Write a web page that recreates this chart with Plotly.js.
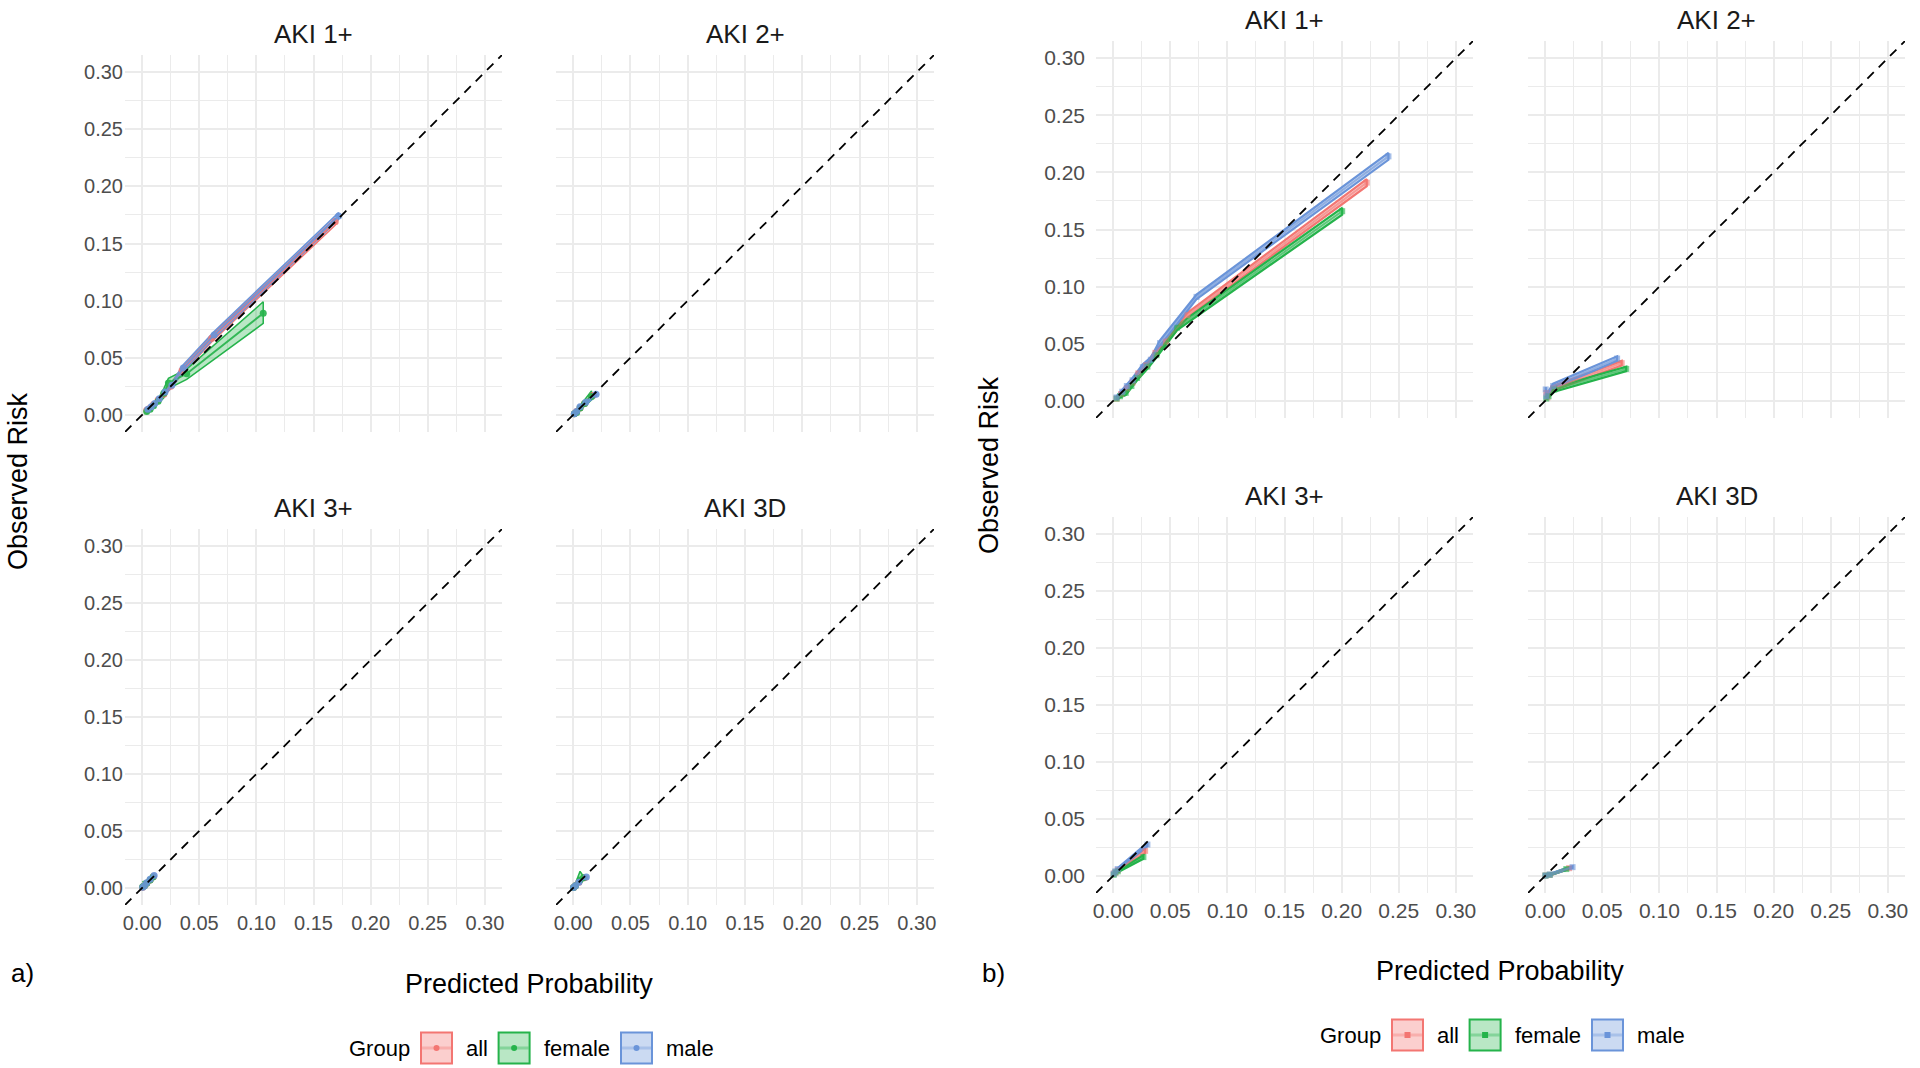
<!DOCTYPE html>
<html>
<head>
<meta charset="utf-8">
<script src="https://cdn.plot.ly/plotly-3.0.1.min.js"></script>
<style>
  html, body { margin: 0; padding: 0; background: #fff; }
  #plot { width: 1920px; height: 1068px; }
</style>
</head>
<body>
<div id="plot"></div>
<script>
document.addEventListener("DOMContentLoaded", function(event) {

  const groups = ['all', 'female', 'male'];
  const groupColors = ['#F37672', '#25B34B', '#6A94D9'];
  const groupFills = ['rgba(243,118,114,0.35)', 'rgba(37,179,75,0.32)', 'rgba(106,148,217,0.35)'];
  const panelTitles = ['AKI 1+', 'AKI 2+', 'AKI 3+', 'AKI 3D'];
  const tickValues = [0, 0.05, 0.10, 0.15, 0.20, 0.25, 0.30];
  const tickLabels = ['0.00', '0.05', '0.10', '0.15', '0.20', '0.25', '0.30'];

  // a) AKI 1+
  const aAki1AllX   = [0.004, 0.007, 0.010, 0.014, 0.019, 0.025, 0.035, 0.061, 0.169];
  const aAki1AllY   = [0.004, 0.006, 0.009, 0.013, 0.018, 0.025, 0.039, 0.067, 0.169];
  const aAki1AllLo  = [0.003, 0.005, 0.008, 0.012, 0.016, 0.023, 0.036, 0.064, 0.166];
  const aAki1AllHi  = [0.005, 0.007, 0.010, 0.014, 0.020, 0.027, 0.042, 0.070, 0.172];
  const aAki1FemX   = [0.004, 0.007, 0.010, 0.014, 0.019, 0.023, 0.039, 0.106];
  const aAki1FemY   = [0.003, 0.005, 0.008, 0.012, 0.019, 0.028, 0.036, 0.089];
  const aAki1FemLo  = [0.001, 0.003, 0.006, 0.010, 0.015, 0.023, 0.031, 0.080];
  const aAki1FemHi  = [0.005, 0.008, 0.010, 0.014, 0.023, 0.032, 0.040, 0.099];
  const aAki1MaleX  = [0.005, 0.008, 0.011, 0.015, 0.020, 0.026, 0.036, 0.063, 0.172];
  const aAki1MaleY  = [0.005, 0.007, 0.010, 0.014, 0.020, 0.026, 0.041, 0.070, 0.174];
  const aAki1MaleLo = [0.004, 0.006, 0.009, 0.013, 0.018, 0.024, 0.038, 0.067, 0.171];
  const aAki1MaleHi = [0.006, 0.008, 0.011, 0.015, 0.022, 0.028, 0.044, 0.073, 0.177];

  // a) AKI 2+
  const aAki2AllX   = [0.001, 0.003, 0.006, 0.010, 0.017];
  const aAki2AllY   = [0.001, 0.003, 0.006, 0.010, 0.017];
  const aAki2AllLo  = [0.000, 0.002, 0.005, 0.009, 0.015];
  const aAki2AllHi  = [0.002, 0.004, 0.007, 0.011, 0.019];
  const aAki2FemX   = [0.001, 0.003, 0.006, 0.010, 0.016];
  const aAki2FemY   = [0.001, 0.002, 0.006, 0.010, 0.016];
  const aAki2FemLo  = [0.000, 0.001, 0.004, 0.008, 0.013];
  const aAki2FemHi  = [0.002, 0.004, 0.008, 0.013, 0.021];
  const aAki2MaleX  = [0.001, 0.003, 0.006, 0.011, 0.020];
  const aAki2MaleY  = [0.001, 0.003, 0.007, 0.011, 0.018];
  const aAki2MaleLo = [0.000, 0.002, 0.006, 0.010, 0.016];
  const aAki2MaleHi = [0.002, 0.004, 0.008, 0.012, 0.020];

  // a) AKI 3+
  const aAki3AllX   = [0.0005, 0.002, 0.004, 0.007, 0.010];
  const aAki3AllY   = [0.0005, 0.002, 0.004, 0.007, 0.010];
  const aAki3AllLo  = [0.000, 0.001, 0.003, 0.006, 0.009];
  const aAki3AllHi  = [0.001, 0.003, 0.005, 0.008, 0.011];
  const aAki3FemX   = [0.0005, 0.002, 0.004, 0.007, 0.0095];
  const aAki3FemY   = [0.001, 0.002, 0.004, 0.007, 0.0095];
  const aAki3FemLo  = [0.000, 0.001, 0.003, 0.005, 0.008];
  const aAki3FemHi  = [0.006, 0.004, 0.006, 0.009, 0.011];
  const aAki3MaleX  = [0.0005, 0.002, 0.004, 0.007, 0.0105];
  const aAki3MaleY  = [0.0005, 0.002, 0.0045, 0.0075, 0.011];
  const aAki3MaleLo = [0.000, 0.001, 0.0035, 0.0065, 0.010];
  const aAki3MaleHi = [0.001, 0.003, 0.0055, 0.0085, 0.012];

  // a) AKI 3D
  const aAki3dAllX   = [0.0003, 0.002, 0.005, 0.010];
  const aAki3dAllY   = [0.0003, 0.002, 0.005, 0.009];
  const aAki3dAllLo  = [0.000, 0.001, 0.004, 0.008];
  const aAki3dAllHi  = [0.001, 0.003, 0.006, 0.010];
  const aAki3dFemX   = [0.0003, 0.002, 0.006, 0.009];
  const aAki3dFemY   = [0.0003, 0.002, 0.007, 0.009];
  const aAki3dFemLo  = [0.000, 0.001, 0.004, 0.008];
  const aAki3dFemHi  = [0.001, 0.004, 0.0145, 0.010];
  const aAki3dMaleX  = [0.0003, 0.002, 0.005, 0.0115];
  const aAki3dMaleY  = [0.0003, 0.002, 0.005, 0.0096];
  const aAki3dMaleLo = [0.000, 0.001, 0.004, 0.0085];
  const aAki3dMaleHi = [0.001, 0.003, 0.006, 0.0105];

  // b) AKI 1+
  const bAki1AllX   = [0.003, 0.007, 0.012, 0.017, 0.022, 0.029, 0.037, 0.046, 0.065, 0.222];
  const bAki1AllY   = [0.002, 0.006, 0.011, 0.016, 0.024, 0.031, 0.042, 0.052, 0.075, 0.191];
  const bAki1AllLo  = [0.001, 0.005, 0.009, 0.014, 0.022, 0.029, 0.040, 0.050, 0.073, 0.188];
  const bAki1AllHi  = [0.003, 0.007, 0.013, 0.018, 0.026, 0.033, 0.044, 0.054, 0.077, 0.194];
  const bAki1FemX   = [0.003, 0.006, 0.011, 0.016, 0.021, 0.030, 0.038, 0.056, 0.2005];
  const bAki1FemY   = [0.002, 0.004, 0.007, 0.013, 0.020, 0.030, 0.040, 0.064, 0.166];
  const bAki1FemLo  = [0.001, 0.003, 0.005, 0.011, 0.018, 0.028, 0.038, 0.062, 0.163];
  const bAki1FemHi  = [0.003, 0.005, 0.009, 0.015, 0.022, 0.032, 0.042, 0.066, 0.169];
  const bAki1MaleX  = [0.003, 0.008, 0.012, 0.017, 0.026, 0.033, 0.041, 0.073, 0.241];
  const bAki1MaleY  = [0.003, 0.008, 0.013, 0.018, 0.0295, 0.036, 0.0505, 0.091, 0.214];
  const bAki1MaleLo = [0.002, 0.006, 0.011, 0.016, 0.027, 0.034, 0.048, 0.089, 0.211];
  const bAki1MaleHi = [0.004, 0.010, 0.015, 0.020, 0.032, 0.038, 0.053, 0.093, 0.217];

  // b) AKI 2+
  const bAki2AllX   = [0.001, 0.002, 0.007, 0.067];
  const bAki2AllY   = [0.007, 0.003, 0.011, 0.033];
  const bAki2AllLo  = [0.005, 0.002, 0.009, 0.031];
  const bAki2AllHi  = [0.009, 0.004, 0.013, 0.035];
  const bAki2FemX   = [0.001, 0.003, 0.008, 0.071];
  const bAki2FemY   = [0.002, 0.004, 0.010, 0.028];
  const bAki2FemLo  = [0.001, 0.003, 0.008, 0.026];
  const bAki2FemHi  = [0.003, 0.005, 0.012, 0.030];
  const bAki2MaleX  = [0.0005, 0.001, 0.007, 0.063];
  const bAki2MaleY  = [0.010, 0.004, 0.013, 0.037];
  const bAki2MaleLo = [0.008, 0.003, 0.011, 0.035];
  const bAki2MaleHi = [0.012, 0.005, 0.015, 0.039];

  // b) AKI 3+
  const bAki3AllX   = [0.0005, 0.002, 0.004, 0.028];
  const bAki3AllY   = [0.002, 0.003, 0.005, 0.022];
  const bAki3AllLo  = [0.001, 0.002, 0.004, 0.020];
  const bAki3AllHi  = [0.003, 0.004, 0.006, 0.024];
  const bAki3FemX   = [0.0005, 0.002, 0.004, 0.0265];
  const bAki3FemY   = [0.001, 0.003, 0.004, 0.0165];
  const bAki3FemLo  = [0.000, 0.002, 0.003, 0.015];
  const bAki3FemHi  = [0.002, 0.004, 0.005, 0.018];
  const bAki3MaleX  = [0.0005, 0.002, 0.004, 0.030];
  const bAki3MaleY  = [0.002, 0.004, 0.006, 0.0275];
  const bAki3MaleLo = [0.001, 0.003, 0.005, 0.026];
  const bAki3MaleHi = [0.003, 0.005, 0.007, 0.029];

  // b) AKI 3D
  const bAki3dAllX   = [0.0003, 0.004, 0.021];
  const bAki3dAllY   = [0.0003, 0.001, 0.0068];
  const bAki3dAllLo  = [0.000, 0.0005, 0.006];
  const bAki3dAllHi  = [0.001, 0.0015, 0.0076];
  const bAki3dFemX   = [0.0003, 0.004, 0.0185];
  const bAki3dFemY   = [0.0003, 0.001, 0.006];
  const bAki3dFemLo  = [0.000, 0.0005, 0.0052];
  const bAki3dFemHi  = [0.001, 0.0015, 0.0068];
  const bAki3dMaleX  = [0.0003, 0.004, 0.024];
  const bAki3dMaleY  = [0.0003, 0.0012, 0.0077];
  const bAki3dMaleLo = [0.000, 0.0006, 0.0069];
  const bAki3dMaleHi = [0.001, 0.0018, 0.0085];

  const W = 1920, H = 1068;
  const px = (x) => x / W;
  const py = (y) => 1 - y / H;
  const font = 'Liberation Sans, Arial, Helvetica, sans-serif';
  const range = [-0.015, 0.315];

  // panel boxes in pixels: [left, right, top, bottom]
  const panels = [
    { box: [125, 502, 55, 432],   xl: false, yl: true,  sym: 'circle', title: 0,
      sets: [[aAki1AllX, aAki1AllY, aAki1AllLo, aAki1AllHi], [aAki1FemX, aAki1FemY, aAki1FemLo, aAki1FemHi], [aAki1MaleX, aAki1MaleY, aAki1MaleLo, aAki1MaleHi]] },
    { box: [556, 934, 55, 432],   xl: false, yl: false, sym: 'circle', title: 1,
      sets: [[aAki2AllX, aAki2AllY, aAki2AllLo, aAki2AllHi], [aAki2FemX, aAki2FemY, aAki2FemLo, aAki2FemHi], [aAki2MaleX, aAki2MaleY, aAki2MaleLo, aAki2MaleHi]] },
    { box: [125, 502, 529, 905],  xl: true,  yl: true,  sym: 'circle', title: 2,
      sets: [[aAki3AllX, aAki3AllY, aAki3AllLo, aAki3AllHi], [aAki3FemX, aAki3FemY, aAki3FemLo, aAki3FemHi], [aAki3MaleX, aAki3MaleY, aAki3MaleLo, aAki3MaleHi]] },
    { box: [556, 934, 529, 905],  xl: true,  yl: false, sym: 'circle', title: 3,
      sets: [[aAki3dAllX, aAki3dAllY, aAki3dAllLo, aAki3dAllHi], [aAki3dFemX, aAki3dFemY, aAki3dFemLo, aAki3dFemHi], [aAki3dMaleX, aAki3dMaleY, aAki3dMaleLo, aAki3dMaleHi]] },
    { box: [1096, 1473, 41, 418], xl: false, yl: true,  sym: 'square', title: 0,
      sets: [[bAki1AllX, bAki1AllY, bAki1AllLo, bAki1AllHi], [bAki1FemX, bAki1FemY, bAki1FemLo, bAki1FemHi], [bAki1MaleX, bAki1MaleY, bAki1MaleLo, bAki1MaleHi]] },
    { box: [1528, 1905, 41, 418], xl: false, yl: false, sym: 'square', title: 1,
      sets: [[bAki2AllX, bAki2AllY, bAki2AllLo, bAki2AllHi], [bAki2FemX, bAki2FemY, bAki2FemLo, bAki2FemHi], [bAki2MaleX, bAki2MaleY, bAki2MaleLo, bAki2MaleHi]] },
    { box: [1096, 1473, 517, 893], xl: true, yl: true,  sym: 'square', title: 2,
      sets: [[bAki3AllX, bAki3AllY, bAki3AllLo, bAki3AllHi], [bAki3FemX, bAki3FemY, bAki3FemLo, bAki3FemHi], [bAki3MaleX, bAki3MaleY, bAki3MaleLo, bAki3MaleHi]] },
    { box: [1528, 1905, 517, 893], xl: true, yl: false, sym: 'square', title: 3,
      sets: [[bAki3dAllX, bAki3dAllY, bAki3dAllLo, bAki3dAllHi], [bAki3dFemX, bAki3dFemY, bAki3dFemLo, bAki3dFemHi], [bAki3dMaleX, bAki3dMaleY, bAki3dMaleLo, bAki3dMaleHi]] }
  ];

  const data = [];
  const layout = {
    width: W, height: H, autosize: false,
    margin: { l: 0, r: 0, t: 0, b: 0 },
    paper_bgcolor: '#fff', plot_bgcolor: '#fff',
    showlegend: false,
    font: { family: font, color: '#000' },
    annotations: [],
    shapes: []
  };

  const axisBase = (domain, showLabels, anchor, size, standoff) => ({
    domain: domain, anchor: anchor, range: range,
    tickmode: 'array', tickvals: tickValues, ticktext: tickLabels,
    showticklabels: showLabels, ticks: '', ticklabelstandoff: standoff,
    tickfont: { family: font, size: size, color: '#4d4d4d' },
    showgrid: true, gridcolor: '#ebebeb', gridwidth: 2,
    minor: { tickmode: 'array', tickvals: [0.025, 0.075, 0.125, 0.175, 0.225, 0.275], showgrid: true, gridcolor: '#ebebeb', gridwidth: 1 },
    zeroline: false, showline: false, fixedrange: true
  });

  panels.forEach(function(p, i) {
    const n = i === 0 ? '' : String(i + 1);
    const xa = 'x' + n, ya = 'y' + n;
    const b = p.box;
    const wide = p.sym === 'square';
    layout['xaxis' + n] = axisBase([px(b[0]), px(b[1])], p.xl, ya, wide ? 21 : 20, wide ? 3 : 4);
    layout['yaxis' + n] = axisBase([py(b[3]), py(b[2])], p.yl, xa, wide ? 21 : 20, wide ? 10 : 1);

    // ribbons first, then lines and points
    p.sets.forEach(function(s, g) {
      data.push({
        x: s[0].concat(s[0].slice().reverse()),
        y: s[3].concat(s[2].slice().reverse()),
        xaxis: xa, yaxis: ya, type: 'scatter', mode: 'lines',
        fill: 'toself', fillcolor: groupFills[g],
        line: { color: groupColors[g], width: wide ? 2.2 : 1.5 },
        hoverinfo: 'skip'
      });
    });
    p.sets.forEach(function(s, g) {
      data.push({
        x: s[0], y: s[1], xaxis: xa, yaxis: ya, type: 'scatter',
        mode: 'lines+markers', name: groups[g],
        line: { color: groupColors[g], width: 2 },
        opacity: wide ? 0.6 : 0.9,
        marker: { symbol: p.sym, size: wide ? 6 : 7, color: groupColors[g] }
      });
    });

    // reference diagonal
    data.push({
      x: range, y: range, xaxis: xa, yaxis: ya, type: 'scatter', mode: 'lines',
      line: { color: '#000', width: 1.8, dash: '9px,7px' }, hoverinfo: 'skip'
    });

    layout.annotations.push({
      text: panelTitles[p.title], xref: 'paper', yref: 'paper',
      x: px((b[0] + b[1]) / 2), y: py(b[2] - 21), showarrow: false,
      xanchor: 'center', yanchor: 'middle',
      font: { family: font, size: 26, color: '#1a1a1a' }
    });
  });

  // axis titles and figure tags
  const labels = [
    { t: 'Predicted Probability', x: 529, y: 984, rot: 0, size: 27 },
    { t: 'Predicted Probability', x: 1500, y: 971, rot: 0, size: 27 },
    { t: 'Observed Risk', x: 18, y: 481, rot: -90, size: 27 },
    { t: 'Observed Risk', x: 989, y: 465, rot: -90, size: 27 },
    { t: 'a)', x: 22, y: 973, rot: 0, size: 26 },
    { t: 'b)', x: 993, y: 973, rot: 0, size: 26 }
  ];
  labels.forEach(function(l) {
    layout.annotations.push({
      text: l.t, xref: 'paper', yref: 'paper', x: px(l.x), y: py(l.y),
      showarrow: false, textangle: l.rot, xanchor: 'center', yanchor: 'middle',
      font: { family: font, size: l.size, color: '#000' }
    });
  });

  // ggplot style legends under each figure
  const legendOrigins = [[347, 1048, 'circle'], [1318, 1035, 'square']];
  const keyOffsets = [74, 151.6, 274];
  const textOffsets = [116.6, 195, 317.3];
  legendOrigins.forEach(function(o) {
    layout.annotations.push({
      text: 'Group', xref: 'paper', yref: 'paper', x: px(o[0]), y: py(o[1]),
      showarrow: false, xanchor: 'left', yanchor: 'middle',
      font: { family: font, size: 22, color: '#000' }
    });
    groups.forEach(function(g, k) {
      const x0 = o[0] + keyOffsets[k];
      const y0 = o[1] - 15.5;
      layout.shapes.push({
        type: 'rect', xref: 'paper', yref: 'paper',
        x0: px(x0), x1: px(x0 + 31), y0: py(y0 + 31), y1: py(y0),
        fillcolor: groupFills[k], line: { color: groupColors[k], width: 2 }
      });
      layout.shapes.push({
        type: 'line', xref: 'paper', yref: 'paper',
        x0: px(x0 + 1), x1: px(x0 + 30), y0: py(o[1]), y1: py(o[1]),
        line: { color: groupColors[k], width: 3 }, opacity: 0.35
      });
      layout.shapes.push({
        type: o[2] === 'circle' ? 'circle' : 'rect', xref: 'paper', yref: 'paper',
        x0: px(x0 + 12.5), x1: px(x0 + 18.5), y0: py(o[1] + 3), y1: py(o[1] - 3),
        fillcolor: groupColors[k], line: { width: 0 }
      });
      layout.annotations.push({
        text: g, xref: 'paper', yref: 'paper', x: px(o[0] + textOffsets[k]), y: py(o[1]),
        showarrow: false, xanchor: 'left', yanchor: 'middle',
        font: { family: font, size: 22, color: '#000' }
      });
    });
  });

  Plotly.newPlot('plot', data, layout, { displayModeBar: false, staticPlot: true });
});
</script>
</body>
</html>
